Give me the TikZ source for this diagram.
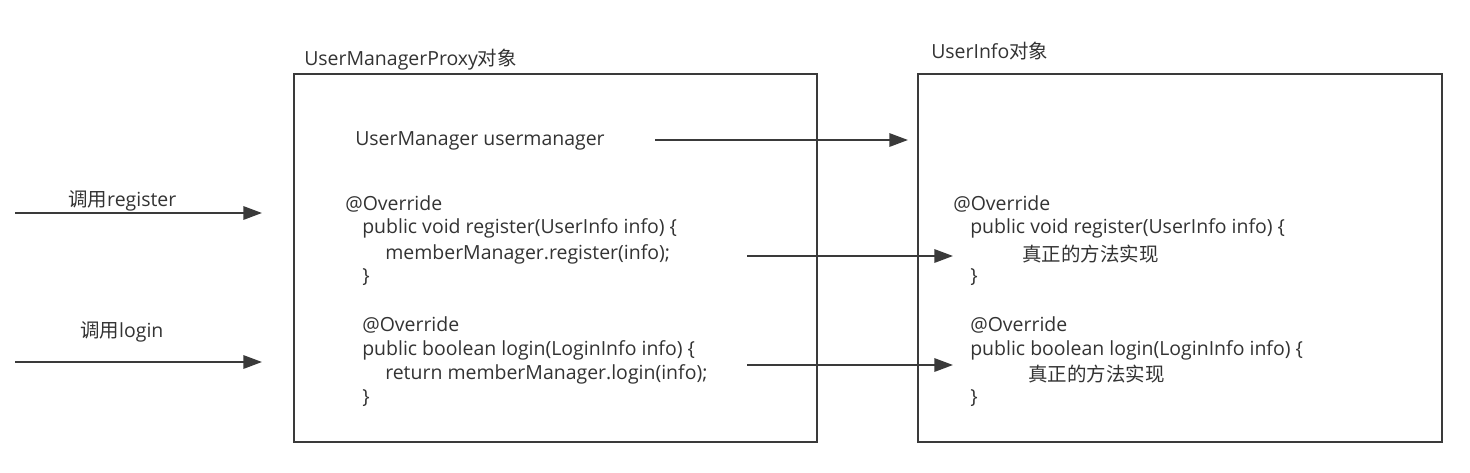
\documentclass[tikz,border=0pt]{standalone}
\usepackage{fontspec}
\setmainfont{Open Sans}
\newfontfamily\cjk{Noto Sans CJK SC}
\usetikzlibrary{arrows.meta}
\definecolor{linec}{HTML}{3A3A3A}
\definecolor{textc}{HTML}{333333}
\tikzset{
  objbox/.style={draw=linec, line width=1.6pt},
  code/.style={anchor=west, inner sep=0pt, text=textc, font=\fontsize{14.6}{16}\selectfont},
  title/.style={anchor=west, inner sep=0pt, text=textc, font=\fontsize{14.6}{16}\selectfont},
  flow/.style={draw=linec, line width=1.6pt, -{Triangle[length=14pt,width=10pt]}}
}
\begin{document}
\begin{tikzpicture}[x=0.75pt,y=-0.75pt]
\useasboundingbox[fill=white] (0,0) rectangle (1470,472);
% boxes
\node[objbox, minimum width=523*0.75pt, minimum height=368*0.75pt, anchor=north west, inner sep=0pt] (proxy) at (293,73) {};
\node[objbox, minimum width=524*0.75pt, minimum height=368*0.75pt, anchor=north west, inner sep=0pt] (info) at (917,73) {};
\node[title] (proxyt) at (304,60) {UserManagerProxy{\cjk 对象}};
\node[title] (infot) at (931,51) {UserInfo{\cjk 对象}};
% proxy contents
\node[code] (um) at (355,141) {UserManager usermanager};
\node[code] (p1) at (345,204) {@Override};
\node[code] (p2) at (362,228) {public void register(UserInfo info) \{};
\node[code] (p3) at (385,254) {memberManager.register(info);};
\node[code] (p4) at (362,277) {\}};
\node[code] (p5) at (362,325) {@Override};
\node[code] (p6) at (362,350) {public boolean login(LoginInfo info) \{};
\node[code] (p7) at (385,374) {return memberManager.login(info);};
\node[code] (p8) at (362,398) {\}};
% info contents
\node[code] (r1) at (953,204) {@Override};
\node[code] (r2) at (970,228) {public void register(UserInfo info) \{};
\node[code] (r3) at (1022,254) {\cjk 真正的方法实现};
\node[code] (r4) at (970,277) {\}};
\node[code] (r5) at (970,325) {@Override};
\node[code] (r6) at (970,350) {public boolean login(LoginInfo info) \{};
\node[code] (r7) at (1028,374) {\cjk 真正的方法实现};
\node[code] (r8) at (970,398) {\}};
% left labels
\node[code] (cr) at (68,201) {{\cjk 调用}register};
\node[code] (cl) at (80,332) {{\cjk 调用}login};
% coordinates
\coordinate (s0) at (655,140);
\coordinate (e0) at (908,140);
\coordinate (s1) at (747,256);
\coordinate (e1) at (953,256);
\coordinate (s2) at (747,365);
\coordinate (e2) at (953,365);
\coordinate (in1) at (15,213);
\coordinate (in1e) at (262,213);
\coordinate (in2) at (15,362);
\coordinate (in2e) at (262,362);
\draw[flow] (s0) -- (e0);
\draw[flow] (s1) -- (e1);
\draw[flow] (s2) -- (e2);
\draw[flow] (in1) -- (in1e);
\draw[flow] (in2) -- (in2e);
\end{tikzpicture}
\end{document}
